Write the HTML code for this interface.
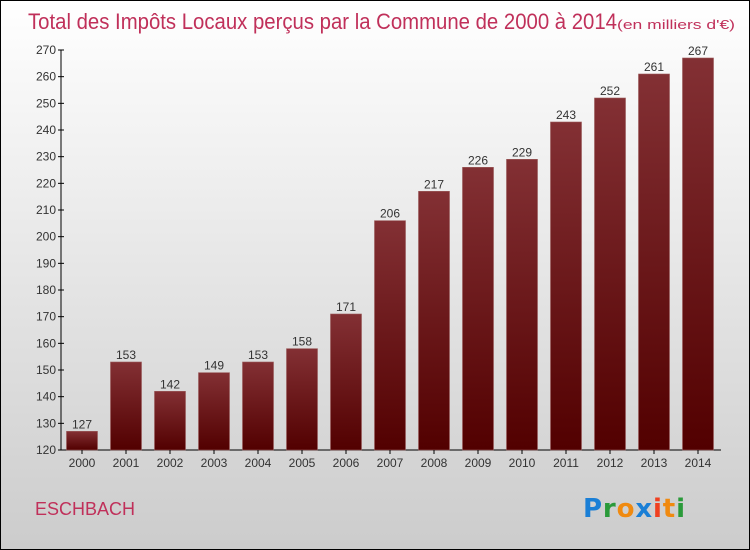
<!DOCTYPE html>
<html><head><meta charset="utf-8"><style>
body{margin:0}
#c{width:748px;height:548px;border:1px solid #000;background:linear-gradient(#ffffff,#cccccc);position:relative;font-family:"Liberation Sans",sans-serif;overflow:hidden}
</style></head><body>
<div id="c">
<svg id="s" width="748" height="548">
<text x="27" y="28" font-size="22" fill="#c0305a"><tspan textLength="589" lengthAdjust="spacingAndGlyphs">Total des Impôts Locaux perçus par la Commune de 2000 à 2014</tspan><tspan font-size="12.5" textLength="118" lengthAdjust="spacingAndGlyphs">(en milliers d'€)</tspan></text>
<text x="34" y="514" font-size="18" fill="#c0305a">ESCHBACH</text>
<g font-size="26" font-weight="bold">
<text x="582" y="516" font-family="'DejaVu Sans',sans-serif" textLength="102"><tspan fill="#1a7fd6">P</tspan><tspan fill="#2a9a3a">r</tspan><tspan fill="#f08a10">o</tspan><tspan fill="#1a7fd6">x</tspan><tspan fill="#f04020">i</tspan><tspan fill="#f08a10">t</tspan><tspan fill="#2a9a3a">i</tspan></text>
</g>
<defs><linearGradient id="bg" x1="0" y1="0" x2="0" y2="1"><stop offset="0" stop-color="#833034"/><stop offset="1" stop-color="#520000"/></linearGradient></defs>
<g id="plot"></g>
</svg>
</div>
<script>
const categories=["2000","2001","2002","2003","2004","2005","2006","2007","2008","2009","2010","2011","2012","2013","2014"];
const values=[127,153,142,149,153,158,171,206,217,226,229,243,252,261,267];
const yTicks=[120,130,140,150,160,170,180,190,200,210,220,230,240,250,260,270];
const ns="http://www.w3.org/2000/svg";
const g=document.getElementById('plot');
const y=v=>449-(v-120)*(400/150);
const x=i=>81+i*44;
function mk(t,a){const e=document.createElementNS(ns,t);for(const k in a)e.setAttribute(k,a[k]);g.appendChild(e);return e;}
let e=mk('line',{x1:60,y1:49,x2:60,y2:449,stroke:'#000'});


e=mk('line',{x1:60,y1:449,x2:720,y2:449,stroke:'#000'});


yTicks.forEach(v=>{
 const t=mk('line',{x1:57,x2:63,y1:y(v),y2:y(v),stroke:'#000'});
 
 
 const l=mk('text',{x:55,y:y(v)+4,'font-size':12,fill:'#333','text-anchor':'end'});
 l.textContent=v;
 
 
});
categories.forEach((c,i)=>{
 const v=values[i];
 const b=mk('rect',{x:x(i)-15.5,y:y(v),width:31,height:449-y(v),fill:'url(#bg)',stroke:'#9a5a5a','stroke-width':0.6});
 
 
 const vl=mk('text',{x:x(i),y:y(v)-3,'font-size':12,fill:'#333','text-anchor':'middle'});
 vl.textContent=v;
 
 
 const tk=mk('line',{x1:x(i),x2:x(i),y1:449,y2:453,stroke:'#000'});
 
 
 const xl=mk('text',{x:x(i),y:466,'font-size':12,fill:'#333','text-anchor':'middle'});
 xl.textContent=c;
 
 
});
</script>
</body></html>
